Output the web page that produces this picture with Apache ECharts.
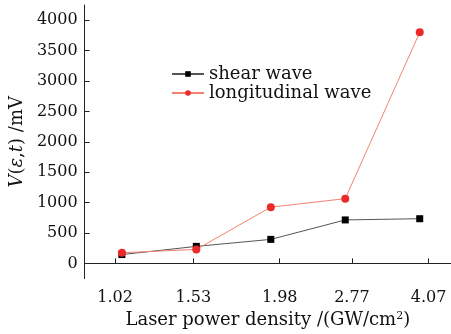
<!DOCTYPE html>
<html>
<head>
<meta charset="utf-8">
<script src="https://cdn.jsdelivr.net/npm/echarts@6/dist/echarts.min.js"></script>
<style>
  html, body { margin: 0; padding: 0; background: #fff; }
  #chart { width: 451px; height: 334px; }
</style>
</head>
<body>
<div id="chart"></div>
<script>
// laser power density categories and measured amplitudes (mV)
const densityLabels = ['1.02', '1.53', '1.98', '2.77', '4.07']
// where the figure puts its tick labels, in point-index units
const labelAt = [0.91, 1.96, 3.12, 4.09, 5.12]
const shearWave = [145, 280, 395, 715, 735]
const longWave = [175, 230, 925, 1065, 3800]
const yTicks = [0, 500, 1000, 1500, 2000, 2500, 3000, 3500, 4000]

const font = 'DejaVu Serif'
const fs = 16
const nameFs = 18
let chart = echarts.init(document.getElementById('chart'))

const option = {
  backgroundColor: '#fff',
  animation: false,
  textStyle: { fontFamily: font, color: '#111' },
  grid: { left: 81, right: 0, top: 5, bottom: 50 },
  legend: {
    orient: 'vertical',
    left: 166,
    top: 60,
    itemGap: 1,
    itemWidth: 32,
    itemHeight: 7,
    textStyle: { fontFamily: font, fontSize: nameFs, color: '#111' },
    data: ['shear wave', 'longitudinal wave'],
  },
  xAxis: {
    type: 'value',
    min: 0.5,
    max: 5.42,
    splitLine: { show: false },
    axisLine: { lineStyle: { color: '#222', width: 1 } },
    axisTick: { inside: true, length: 5, customValues: labelAt, lineStyle: { color: '#222' } },
    axisLabel: {
      customValues: labelAt,
      margin: 11,
      fontFamily: font,
      fontSize: fs,
      color: '#111',
      formatter: function (v) {
        let best = 0
        labelAt.forEach((p, i) => { if (Math.abs(p - v) < Math.abs(labelAt[best] - v)) best = i })
        return densityLabels[best]
      },
    },
    name: 'Laser power density /(GW/cm{sup|2})',
    nameLocation: 'middle',
    nameGap: 27,
    nameTextStyle: {
      fontFamily: font,
      fontSize: nameFs,
      color: '#111',
      rich: { sup: { fontFamily: font, fontSize: 11, color: '#111', padding: [0, 0, 8, 0] } },
    },
  },
  yAxis: {
    type: 'value',
    min: -250,
    max: 4250,
    splitLine: { show: false },
    axisLine: { show: true, lineStyle: { color: '#222', width: 1 } },
    axisTick: { show: true, inside: true, length: 5, customValues: yTicks, lineStyle: { color: '#222' } },
    axisLabel: {
      customValues: yTicks,
      margin: 7,
      fontFamily: font,
      fontSize: fs,
      color: '#111',
      formatter: (v) => String(v),
    },
    name: '{i|V}({i|ε},{i|t}) /mV',
    nameLocation: 'middle',
    nameGap: 54,
    nameRotate: 90,
    nameTextStyle: {
      fontFamily: font,
      fontSize: nameFs,
      color: '#111',
      rich: { i: { fontFamily: font, fontSize: nameFs, fontStyle: 'italic', color: '#111' } },
    },
  },
  series: [
    {
      name: 'shear wave',
      type: 'line',
      data: shearWave.map((v, i) => [i + 1, v]),
      symbol: 'rect',
      symbolSize: 7,
      itemStyle: { color: '#000' },
      lineStyle: { color: '#555', width: 1 },
    },
    {
      name: 'longitudinal wave',
      type: 'line',
      data: longWave.map((v, i) => [i + 1, v]),
      symbol: 'circle',
      symbolSize: 8,
      itemStyle: { color: '#ec2a2a' },
      lineStyle: { color: '#f5826f', width: 1 },
    },
  ],
}

chart.setOption(option)
</script>
</body>
</html>
